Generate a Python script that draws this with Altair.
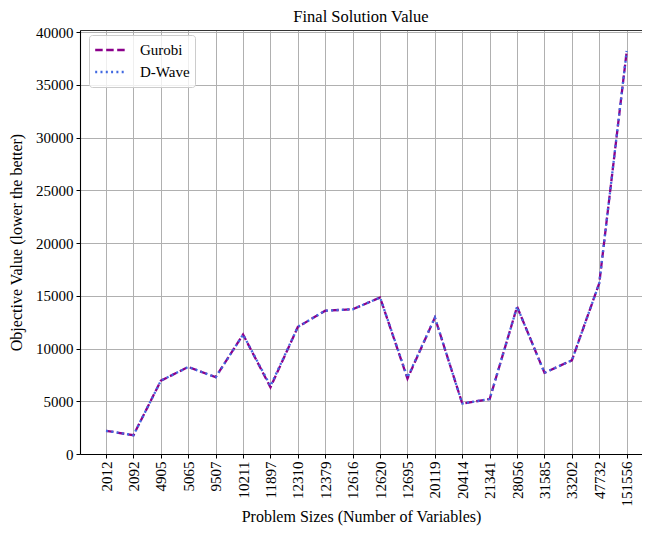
import altair as alt
import pandas as pd

sizes = ["2012", "2092", "4905", "5065", "9507", "10211", "11897", "12310", "12379", "12616",
         "12620", "12695", "20119", "20414", "21341", "28056", "31585", "33202", "47732", "151556"]
gurobi = [2200, 1780, 6950, 8250, 7280, 11320, 6320, 12050, 13580, 13720,
          14830, 7150, 12930, 4780, 5210, 13960, 7700, 8880, 16200, 38150]
dwave = [2200, 1780, 6950, 8250, 7280, 11320, 6450, 12050, 13580, 13720,
         14830, 7250, 12930, 4780, 5210, 13960, 7700, 8880, 16200, 38200]
yticks = [0, 5000, 10000, 15000, 20000, 25000, 30000, 35000, 40000]

rows = []
for s, g in zip(sizes, gurobi):
    rows.append({"Size": s, "Solver": "Gurobi", "Value": g})
for s, d in zip(sizes, dwave):
    rows.append({"Size": s, "Solver": "D-Wave", "Value": d})
df = pd.DataFrame(rows)

FONT = "Liberation Serif"
solvers = ["Gurobi", "D-Wave"]
colors = ["#8b008b", "#4169e1"]
dashes = [[7.5, 3.5], [2, 3.3]]

xscale = alt.Scale(type="point", padding=0.755, align=0.63)
yscale = alt.Scale(domain=[0, 40190], nice=False, zero=True)

yaxis = alt.Axis(title="Objective Value (lower the better)", values=yticks,
                 grid=True, gridColor="#b0b0b0", gridWidth=1,
                 domainColor="black", domainWidth=1.1,
                 tickColor="black", tickSize=4, tickWidth=1, format="d",
                 labelFont=FONT, labelFontSize=15, labelColor="black", labelPadding=3,
                 titleFont=FONT, titleFontSize=16, titleFontWeight="normal",
                 titleColor="black", titlePadding=11)

base = alt.Chart(df)

line = base.mark_line(strokeWidth=2.3).encode(
    x=alt.X("Size:N", sort=sizes, scale=xscale,
            axis=alt.Axis(title="Problem Sizes (Number of Variables)", labelAngle=270,
                          grid=True, gridColor="#b0b0b0", gridWidth=1,
                          domainColor="black", domainWidth=1.1,
                          tickColor="black", tickSize=4, tickWidth=1,
                          labelFont=FONT, labelFontSize=15, labelColor="black", labelPadding=3,
                          titleFont=FONT, titleFontSize=16, titleFontWeight="normal",
                          titleColor="black", titlePadding=2)),
    y=alt.Y("Value:Q", scale=yscale, axis=yaxis),
    color=alt.Color("Solver:N", scale=alt.Scale(domain=solvers, range=colors),
                    legend=alt.Legend(title=None, orient="none", legendX=9, legendY=5,
                                      symbolType="stroke", symbolSize=1000,
                                      symbolStrokeWidth=2.3, clipHeight=20,
                                      labelFont=FONT, labelFontSize=15, labelColor="black",
                                      fillColor="rgba(255,255,255,0.8)", strokeColor="#cccccc",
                                      cornerRadius=3, padding=5, rowPadding=2,
                                      labelOffset=12)),
    strokeDash=alt.StrokeDash("Solver:N", scale=alt.Scale(domain=solvers, range=dashes),
                              legend=None),
    order=alt.Order("Solver:N"),
    detail="Solver:N",
)

topframe = base.mark_line(opacity=0).encode(
    x=alt.X("Size:N", sort=sizes, scale=xscale,
            axis=alt.Axis(orient="top", title=None, labels=False, ticks=False, grid=False,
                          domainColor="#333333", domainWidth=1.1)),
    y=alt.Y("Value:Q", scale=yscale, axis=yaxis),
    detail="Solver:N",
)

chart = alt.layer(line, topframe).resolve_axis(x="independent").properties(
    width=562, height=424,
    title=alt.TitleParams("Final Solution Value", font=FONT, fontSize=16.5,
                          fontWeight="normal", color="black", offset=0),
    autosize=alt.AutoSizeParams(type="none"),
    padding={"left": 72, "top": 22, "right": 0, "bottom": 74},
).configure_view(stroke=None).configure(background="white")

chart.save("out.html", embed_options={"renderer": "svg", "actions": False})
